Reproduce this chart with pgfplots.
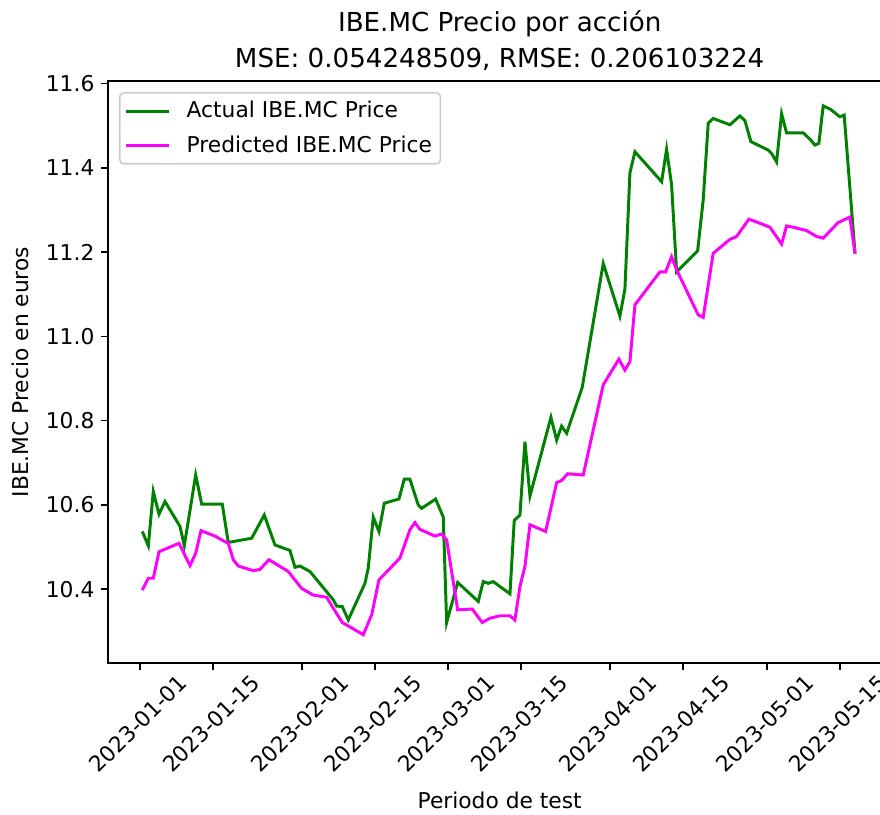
\documentclass[border=0pt]{standalone}
\usepackage{fontspec}
\setmainfont{DejaVu Sans}
\usepackage{pgfplots}
\usepackage{pgfplotstable}
\pgfplotsset{compat=1.18}

\definecolor{mplgreen}{RGB}{0,128,0}
\definecolor{mplmagenta}{RGB}{255,0,255}
\definecolor{legendedge}{RGB}{204,204,204}

% day offset from 2023-01-01, closing price in euros
\pgfplotstableread{
d v
0.44 10.537
1.59 10.503
2.55 10.632
3.64 10.578
4.79 10.608
7.66 10.549
8.48 10.503
10.66 10.671
11.81 10.602
15.75 10.602
16.90 10.511
21.38 10.521
23.79 10.576
25.84 10.505
28.71 10.492
29.67 10.452
30.63 10.455
32.54 10.442
37.00 10.375
37.65 10.360
38.73 10.359
39.87 10.327
43.07 10.414
43.70 10.450
44.66 10.571
45.75 10.537
46.77 10.604
49.58 10.614
50.59 10.661
51.68 10.661
53.27 10.600
53.92 10.592
56.60 10.614
58.06 10.571
58.71 10.321
60.82 10.416
64.76 10.371
65.72 10.418
66.67 10.414
67.63 10.418
70.83 10.389
71.65 10.563
72.74 10.576
73.70 10.750
74.66 10.621
78.68 10.808
79.77 10.754
80.72 10.787
81.68 10.770
84.67 10.879
88.69 11.173
91.88 11.048
92.84 11.112
93.80 11.388
94.76 11.438
99.87 11.367
100.82 11.444
101.78 11.359
102.74 11.153
106.76 11.203
107.83 11.324
108.79 11.506
109.74 11.517
112.94 11.502
114.85 11.523
115.81 11.512
116.96 11.462
120.27 11.442
120.92 11.434
121.88 11.414
122.84 11.528
123.79 11.483
126.97 11.483
128.25 11.468
129.21 11.454
129.98 11.458
130.80 11.547
132.27 11.538
133.99 11.521
134.82 11.525
136.90 11.196
}\actualdata

% model output on the same days
\pgfplotstableread{
d v
0.44 10.398
1.59 10.426
2.55 10.426
3.64 10.489
7.47 10.509
9.57 10.456
10.66 10.485
11.68 10.539
14.36 10.526
15.95 10.515
16.90 10.509
17.86 10.470
18.82 10.455
21.69 10.444
22.97 10.447
24.69 10.470
28.39 10.442
30.95 10.402
33.17 10.386
35.74 10.381
37.00 10.355
38.73 10.321
42.75 10.292
44.35 10.339
45.75 10.422
49.77 10.474
51.68 10.541
52.64 10.558
53.60 10.542
56.47 10.526
57.75 10.531
58.71 10.517
60.82 10.351
63.61 10.353
65.52 10.321
67.00 10.331
68.91 10.337
70.83 10.337
71.78 10.327
72.74 10.406
73.70 10.454
74.66 10.553
77.66 10.537
79.77 10.653
80.72 10.658
81.87 10.674
84.86 10.671
88.69 10.885
91.69 10.946
92.84 10.920
93.80 10.940
94.76 11.075
99.54 11.153
100.63 11.153
101.78 11.189
102.74 11.158
106.87 11.051
107.83 11.045
109.74 11.197
112.94 11.230
114.22 11.237
116.58 11.278
118.36 11.270
120.60 11.259
122.84 11.219
123.79 11.262
125.06 11.259
127.62 11.251
129.54 11.237
130.80 11.233
133.67 11.270
135.91 11.283
136.90 11.196
}\predicteddata

\begin{document}
\begin{tikzpicture}
\begin{axis}[
  name=ax,
  scale only axis,
  width=395.4pt, height=294.1pt,
  xmin=-6.07, xmax=143.8,
  ymin=10.2244, ymax=11.606,
  axis line style={line width=0.8pt},
  tick align=outside,
  tick pos=left,
  major tick length=3.5pt,
  tick style={line width=0.8pt, black},
  tick label style={font=\fontsize{11}{13}\selectfont},
  xtick={0,14,31,45,59,73,90,104,120,134},
  xticklabels={2023-01-01,2023-01-15,2023-02-01,2023-02-15,2023-03-01,2023-03-15,2023-04-01,2023-04-15,2023-05-01,2023-05-15},
  xticklabel style={yshift=-27pt, xshift=-1pt, rotate=45, anchor=center},
  ytick={10.4,10.6,10.8,11.0,11.2,11.4,11.6},
  yticklabel style={/pgf/number format/.cd, fixed, fixed zerofill, precision=1, assume math mode=true},
  title={IBE.MC Precio por acción\\MSE: 0.054248509, RMSE: 0.206103224},
  title style={align=center, font=\fontsize{13.2}{18.5}\selectfont, at={(axis description cs:0.5,1)}, anchor=south, inner sep=0pt, yshift=-1pt},
  xlabel={Periodo de test},
  xlabel style={at={(axis description cs:0.5,-0.2348)}, anchor=center, font=\fontsize{11}{13}\selectfont},
  ylabel={IBE.MC Precio en euros},
  ylabel style={at={(axis description cs:-0.1128,0.5)}, anchor=center, font=\fontsize{11}{13}\selectfont},
  legend style={at={(axis description cs:0,1)}, anchor=north west, xshift=5.4pt, yshift=-5.6pt,
    draw=legendedge, line width=0.8pt, rounded corners=2pt, fill=white, fill opacity=0.8, text opacity=1,
    font=\fontsize{11}{13}\selectfont, inner sep=2.3pt, row sep=3.5pt,
    /tikz/every odd column/.append style={column sep=6pt}},
  legend cell align=left,
  legend image code/.code={\draw[#1, line width=1.5pt] (0pt,0pt) -- (22pt,0pt);},
]
\addplot[mplgreen, line width=1.5pt] table[x=d, y=v] {\actualdata};
\addlegendentry{Actual IBE.MC Price}
\addplot[mplmagenta, line width=1.5pt] table[x=d, y=v] {\predicteddata};
\addlegendentry{Predicted IBE.MC Price}
\end{axis}
\pgfresetboundingbox
\path[use as bounding box] ([xshift=-54.7pt, yshift=-76.6pt]ax.south west) rectangle ([xshift=-5.6pt, yshift=40.9pt]ax.north east);
\end{tikzpicture}
\end{document}
